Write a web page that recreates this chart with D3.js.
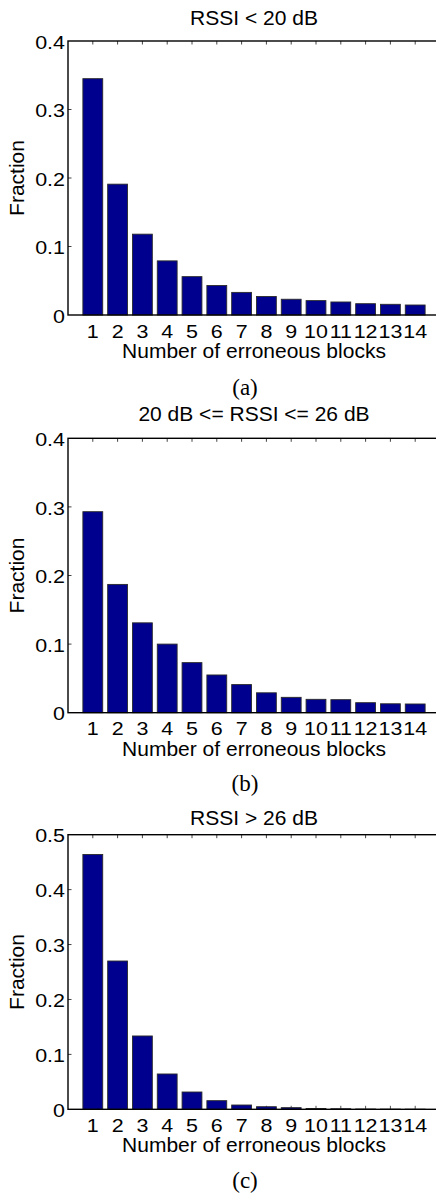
<!DOCTYPE html>
<html>
<head>
<meta charset="utf-8">
<script src="https://cdn.jsdelivr.net/npm/d3@7"></script>
<style>
  html, body { margin: 0; padding: 0; background: #fff; }
  svg { display: block; }
  text { font-family: "Liberation Sans", Arial, Helvetica, sans-serif; fill: #000; }
  .caption { font-family: "Liberation Serif", "Times New Roman", serif; }
</style>
</head>
<body>
<svg width="436" height="1197"></svg>
<script>
// data
var blocks = [1, 2, 3, 4, 5, 6, 7, 8, 9, 10, 11, 12, 13, 14]

var frac_low  = [0.345, 0.191, 0.118, 0.079, 0.056, 0.043, 0.033, 0.027, 0.023, 0.021, 0.019, 0.0165, 0.0156, 0.0146]
var frac_mid  = [0.293, 0.187, 0.131, 0.100, 0.073, 0.055, 0.041, 0.029, 0.0224, 0.0195, 0.019, 0.0146, 0.013, 0.0127]
var frac_high = [0.464, 0.270, 0.1335, 0.0643, 0.0315, 0.0157, 0.0078, 0.0047, 0.003, 0.0015, 0.001, 0.0005, 0.0003, 0.0002]

var titles = ['RSSI < 20 dB', '20 dB <= RSSI <= 26 dB', 'RSSI > 26 dB']
var captions = ['(a)', '(b)', '(c)']
var yticks_04 = [0, 0.1, 0.2, 0.3, 0.4]
var yticks_05 = [0, 0.1, 0.2, 0.3, 0.4, 0.5]

var x_label = 'Number of erroneous blocks',
	y_label = 'Fraction'

// layout of the three stacked panels
var panels = [
	{ values: frac_low,  yticks: yticks_04, top: 41,    bottom: 315,    title_y: 24.5, cap_y: 395 },
	{ values: frac_mid,  yticks: yticks_04, top: 438.3, bottom: 712.7,  title_y: 420.7, cap_y: 791 },
	{ values: frac_high, yticks: yticks_05, top: 834.7, bottom: 1109.3, title_y: 825,  cap_y: 1188 }
]

var svg = d3.select('svg'),
	left = 68,
	right = 440,
	tick_len = 3.5,
	bar_w = 0.8,
	tick_font = 18.5,
	tick_stretch = 1.16   // tick digits in the figure are drawn wider than they are tall

var x = d3.scaleLinear().domain([0, 15]).range([left, right])

panels.forEach(function(p, i) { draw_panel(p, titles[i], captions[i]) })

function draw_panel(p, title, caption) {
	var ymax = p.yticks[p.yticks.length - 1]
	var y = d3.scaleLinear().domain([0, ymax]).range([p.bottom, p.top])
	var g = svg.append('g')

	// bottom ticks (under the bars, pointing up)
	g.append('g').selectAll('line').data(blocks)
		.enter().append('line')
		.attr('x1', function(d) { return x(d) }).attr('x2', function(d) { return x(d) })
		.attr('y1', p.bottom).attr('y2', p.bottom - tick_len)
		.attr('stroke', '#555').attr('stroke-width', 1)

	// bars
	g.append('g').selectAll('rect').data(p.values)
		.enter().append('rect')
		.attr('x', function(d, i) { return x(blocks[i] - bar_w / 2) })
		.attr('width', x(bar_w) - x(0))
		.attr('y', function(d) { return y(d) })
		.attr('height', function(d) { return y(0) - y(d) })
		.attr('fill', '#00008f')
		.attr('stroke', '#2a2a2a')
		.attr('stroke-width', 0.9)

	// top ticks
	g.append('g').selectAll('line').data(blocks)
		.enter().append('line')
		.attr('x1', function(d) { return x(d) }).attr('x2', function(d) { return x(d) })
		.attr('y1', p.top).attr('y2', p.top + tick_len)
		.attr('stroke', '#444').attr('stroke-width', 1)

	// left and right ticks
	var inner = p.yticks.slice(1, -1)
	g.append('g').selectAll('line').data(inner)
		.enter().append('line')
		.attr('x1', left).attr('x2', left + tick_len)
		.attr('y1', function(d) { return y(d) }).attr('y2', function(d) { return y(d) })
		.attr('stroke', '#444').attr('stroke-width', 1)
	g.append('g').selectAll('line').data(inner)
		.enter().append('line')
		.attr('x1', right).attr('x2', right - tick_len)
		.attr('y1', function(d) { return y(d) }).attr('y2', function(d) { return y(d) })
		.attr('stroke', '#888').attr('stroke-width', 1)

	// box
	g.append('rect')
		.attr('x', left).attr('y', p.top)
		.attr('width', right - left).attr('height', p.bottom - p.top)
		.attr('fill', 'none').attr('stroke', '#000').attr('stroke-width', 1.4)

	// y tick labels
	g.append('g').selectAll('text').data(p.yticks)
		.enter().append('text')
		.attr('transform', function(d) { return 'translate(' + (left - 3) + ',' + (y(d) + 1) + ') scale(' + tick_stretch + ',1)' })
		.attr('dy', '0.36em')
		.attr('text-anchor', 'end')
		.attr('font-size', tick_font)
		.text(function(d) { return d3.format('~g')(d) })

	// x tick labels
	g.append('g').selectAll('text').data(blocks)
		.enter().append('text')
		.attr('transform', function(d) { return 'translate(' + x(d) + ',' + (p.bottom + 22.5) + ') scale(' + tick_stretch + ',1)' })
		.attr('text-anchor', 'middle')
		.attr('font-size', tick_font)
		.text(function(d) { return d })

	var mid_x = (left + right) / 2

	g.append('text')
		.attr('x', mid_x).attr('y', p.bottom + 43)
		.attr('text-anchor', 'middle').attr('font-size', 21)
		.text(x_label)

	g.append('text')
		.attr('transform', 'translate(24,' + (p.top + p.bottom) / 2 + ') rotate(-90)')
		.attr('text-anchor', 'middle').attr('font-size', 21)
		.text(y_label)

	g.append('text')
		.attr('x', mid_x).attr('y', p.title_y)
		.attr('text-anchor', 'middle').attr('font-size', 21)
		.text(title)

	g.append('text')
		.attr('class', 'caption')
		.attr('x', 245).attr('y', p.cap_y)
		.attr('text-anchor', 'middle').attr('font-size', 23)
		.text(caption)
}
</script>
</body>
</html>
